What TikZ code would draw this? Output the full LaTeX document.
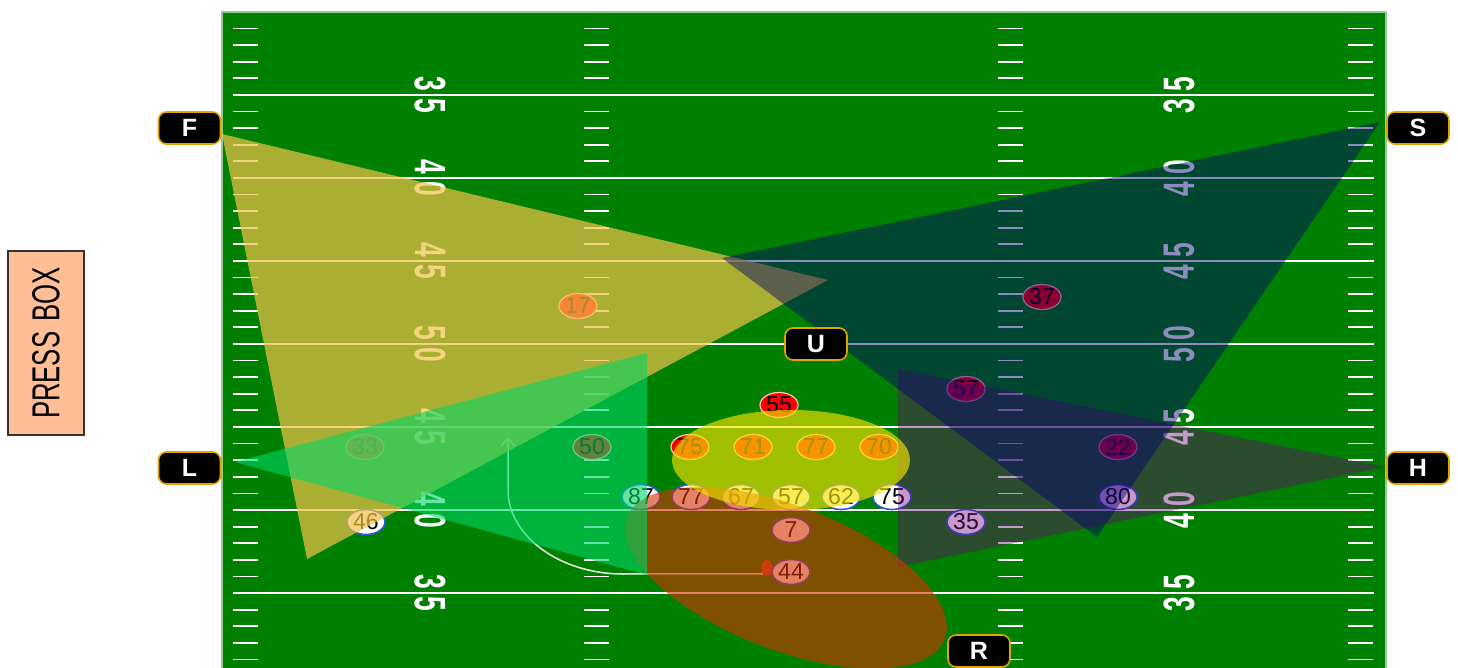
\documentclass[tikz,border=0pt]{standalone}
\usepackage{fontspec}
\setmainfont{Liberation Sans}
\usepackage{graphicx}
\usetikzlibrary{shapes.geometric,arrows.meta}

\definecolor{fieldgreen}{RGB}{0,128,0}
\definecolor{fieldedge}{RGB}{150,200,150}
\definecolor{offblue}{RGB}{40,90,220}
\definecolor{ballred}{RGB}{205,75,40}
\definecolor{offgold}{RGB}{225,165,0}
\definecolor{pressfill}{RGB}{255,190,150}
\definecolor{zoneF}{RGB}{243,194,74}
\definecolor{zoneL}{RGB}{0,214,100}
\definecolor{zoneH}{RGB}{110,0,120}
\definecolor{zoneS}{RGB}{0,0,110}
\definecolor{zoneU}{RGB}{246,226,0}
\definecolor{zoneR}{RGB}{213,48,0}

\newcommand{\playerfont}{\fontsize{11.5}{11.5}\selectfont}
\newcommand{\officialfont}{\fontsize{12.5}{12.5}\selectfont\bfseries}
\newcommand{\yardfont}{\fontsize{22}{22}\selectfont\bfseries}
\newcommand{\pressfont}{\fontsize{19.5}{19.5}\selectfont}

\begin{document}
\begin{tikzpicture}[x=0.5pt,y=-0.5pt]
  \tikzstyle{player}=[ellipse,minimum width=19pt,minimum height=12.5pt,inner sep=0pt,font=\playerfont]
  \tikzstyle{defense}=[player,fill=red,draw=white!75!red,line width=0.6pt]
  \tikzstyle{offense}=[player,fill=white,draw=offblue,line width=0.8pt]
  \tikzstyle{official}=[rectangle,rounded corners=4pt,fill=black,draw=offgold,line width=0.8pt,
  minimum width=31pt,minimum height=16pt,inner sep=0pt,text=white,font=\officialfont]
  \tikzstyle{yardnum}=[inner sep=0pt,text=white,font=\yardfont]
  \tikzstyle{marking}=[white,line width=0.9pt]

  \useasboundingbox (0,0) rectangle (1458,668);

  % field
  \fill[fieldgreen] (222,12) rectangle (1386,670);
  \draw[fieldedge,line width=0.7pt] (222,668) -- (222,12) -- (1386,12) -- (1386,668);
  \foreach \j in {0,...,6}
    \draw[marking] (233,{95+83*\j}) -- (1374,{95+83*\j});
  \foreach \x in {233,584,998,1348}
    \foreach \k in {-4,...,34}
      \draw[marking] (\x,{95+16.6*\k}) -- ++(25,0);
  \foreach \a/\b [count=\j from 0] in {3/5,4/0,4/5,5/0,4/5,4/0,3/5} {
    \node[yardnum,rotate=-90] at (430,{95+83*\j}) {\scalebox{0.6}[1]{\a\ \b}};
    \node[yardnum,rotate=90] at (1179,{95+83*\j}) {\scalebox{0.6}[1]{\a\ \b}};
  }

  % ball and route
  \node[ellipse,fill=ballred,minimum width=5.5pt,minimum height=8pt,inner sep=0pt] (ball) at (767,568) {};
  \coordinate (bend) at (623,574);
  \coordinate (upturn) at (508,490);
  \coordinate (target) at (508,437);
  \draw[white!92!fieldgreen,line width=0.75pt,-{Straight Barb[length=4pt,width=7pt]}]
    (ball.south west) -- (bend) .. controls (560,574) and (508,536) .. (upturn) -- (target);

  % defense
  \node[defense] (d17) at (578,306) {17};
  \node[defense] (d33) at (365,447) {33};
  \node[defense] (d50) at (592,447) {50};
  \node[defense] (d55) at (779,405) {55};
  \node[defense] (d75) at (690,447) {75};
  \node[defense] (d71) at (753,447) {71};
  \node[defense] (d77) at (816,447) {77};
  \node[defense] (d70) at (879,447) {70};
  \node[defense] (d57) at (966,389) {57};
  \node[defense] (d37) at (1042,297) {37};
  \node[defense] (d22) at (1118,447) {22};

  % offense
  \node[offense] (o46) at (366,522) {46};
  \node[offense] (o87) at (641,497) {87};
  \node[offense] (o77) at (691,497) {77};
  \node[offense] (o67) at (741,497) {67};
  \node[offense] (o57) at (791,497) {57};
  \node[offense] (o62) at (841,497) {62};
  \node[offense] (o75) at (892,497) {75};
  \node[offense] (o7) at (791,530) {7};
  \node[offense] (o44) at (791,572) {44};
  \node[offense] (o35) at (966,522) {35};
  \node[offense] (o80) at (1118,497) {80};

  % coverage zones
  \fill[zoneF,opacity=0.7] (222,134) -- (828,280) -- (307,559) -- cycle;
  \fill[zoneH,opacity=0.4] (898,369) -- (1385,467) -- (898,567) -- cycle;
  \fill[zoneS,opacity=0.45] (1380,122) -- (722,258) -- (1097,537) -- cycle;
  \fill[zoneR,opacity=0.6,rotate around={-21:(786,578)}] (786,578) ellipse [x radius=170,y radius=72];
  \fill[zoneL,opacity=0.6] (235,462) -- (647,353) -- (647,575) -- cycle;
  \fill[zoneU,opacity=0.65] (791,460) ellipse [x radius=119,y radius=50];

  % officials
  \node[official] (F) at (189.5,128) {F};
  \node[official] (S) at (1418,128) {S};
  \node[official] (L) at (189.5,468) {L};
  \node[official] (H) at (1418,468) {H};
  \node[official] (U) at (816,344) {U};
  \node[official] (R) at (979,651) {R};

  \node[rectangle,rotate=90,fill=pressfill,draw=black!80,line width=0.8pt,minimum width=92pt,
  minimum height=38pt,inner sep=0pt,font=\pressfont] (pressbox) at (46,343)
  {\scalebox{0.66}[1]{PRESS\hspace{0.4em}BOX}};
\end{tikzpicture}
\end{document}
